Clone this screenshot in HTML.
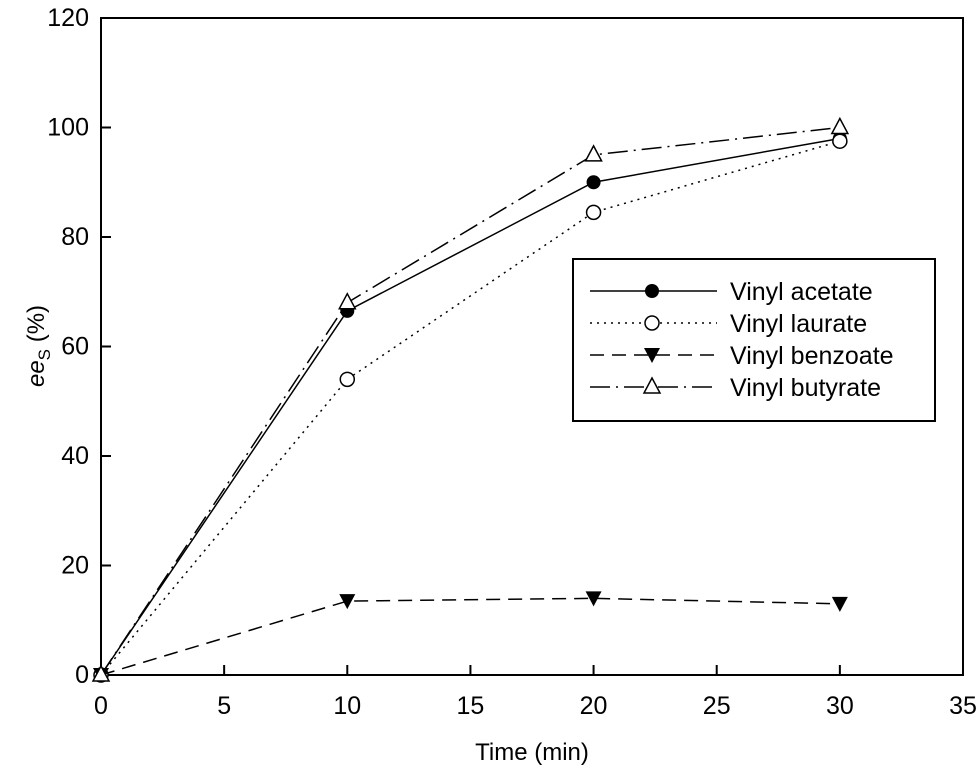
<!DOCTYPE html>
<html><head><meta charset="utf-8"><style>
body{margin:0;background:#fff}
svg text{font-family:"Liberation Sans",Arial,sans-serif;fill:#000}
</style></head><body>
<svg width="980" height="774" viewBox="0 0 980 774">
<g id="plot"></g>
</svg>
<script>
const xTicks=[0,5,10,15,20,25,30,35];
const yTicks=[0,20,40,60,80,100,120];
const times=[0,10,20,30];
const acetate=[0,66.5,90,98];
const laurate=[0,54,84.5,97.5];
const benzoate=[0,13.5,14,13];
const butyrate=[0,68,95,100];
const L=101,R=963,T=18,B=675;
const X=v=>L+(v/35)*(R-L), Y=v=>B-(v/120)*(B-T);
const NS='http://www.w3.org/2000/svg', g=document.getElementById('plot');
function mk(t,a,p){const e=document.createElementNS(NS,t);for(const k in a)e.setAttribute(k,a[k]);(p||g).appendChild(e);return e;}
const frame=mk('rect',{x:L,y:T,width:R-L,height:B-T,fill:'none',stroke:'#000','stroke-width':2});


xTicks.forEach(v=>{
 const l=mk('line',{x1:X(v),x2:X(v),y1:B,y2:B-10,stroke:'#000','stroke-width':2});
 
 
 const t=mk('text',{x:X(v),y:B+39,'text-anchor':'middle','font-size':25});t.textContent=v;
 
 
});
yTicks.forEach(v=>{
 const l=mk('line',{x1:L,x2:L+10,y1:Y(v),y2:Y(v),stroke:'#000','stroke-width':2});
 
 
 const t=mk('text',{x:L-12,y:Y(v)+8,'text-anchor':'end','font-size':25});t.textContent=v;
 
 
});
const xt=mk('text',{x:532,y:760,'text-anchor':'middle','font-size':24});xt.textContent='Time (min)';


const yt=mk('text',{transform:'translate(44,346) rotate(-90)','text-anchor':'middle','font-size':24});
yt.innerHTML='<tspan font-style="italic">ee</tspan><tspan font-size="17" dy="6">S</tspan><tspan dy="-6">  (%)</tspan>';


function marker(type,x,y,p){
 if(type==='fc')return mk('circle',{cx:x,cy:y,r:7,fill:'#000'},p);
 if(type==='oc')return mk('circle',{cx:x,cy:y,r:7,fill:'#fff',stroke:'#000','stroke-width':1.5},p);
 if(type==='tri-down')return mk('path',{d:`M${x-8},${y-7}L${x+8},${y-7}L${x},${y+8}Z`,fill:'#000'},p);
 return mk('path',{d:`M${x},${y-9}L${x+8},${y+6}L${x-8},${y+6}Z`,fill:'#fff',stroke:'#000','stroke-width':1.5},p);
}
const series=[
 {n:'Vinyl acetate',d:acetate,dash:'',m:'fc',id:'acetate'},
 {n:'Vinyl laurate',d:laurate,dash:'2,5',m:'oc',id:'laurate'},
 {n:'Vinyl benzoate',d:benzoate,dash:'14,8',m:'tri-down',id:'benzoate'},
 {n:'Vinyl butyrate',d:butyrate,dash:'20,6,2,6',m:'tri',id:'butyrate'}];
series.forEach(s=>{
 const grp=mk('g',{});
 
 
 const pl=mk('polyline',{points:times.map((t,i)=>X(t)+','+Y(s.d[i])).join(' '),fill:'none',stroke:'#000','stroke-width':1.5,'stroke-dasharray':s.dash},grp);
 
 
 times.forEach((t,i)=>{const m=marker(s.m,X(t),Y(s.d[i]),grp);
  
  });
});
const lg=mk('g',{});


mk('rect',{x:573,y:259,width:362,height:162,fill:'#fff',stroke:'#000','stroke-width':2},lg);
series.forEach((s,i)=>{
 const y=291+i*32;
 const e=mk('g',{},lg);
 
 
 mk('line',{x1:590,x2:717,y1:y,y2:y,stroke:'#000','stroke-width':1.5,'stroke-dasharray':s.dash},e);
 marker(s.m,652,y,e);
 const t=mk('text',{x:730,y:y+9,'font-size':25},e);t.textContent=s.n;
});
</script>
</body></html>
